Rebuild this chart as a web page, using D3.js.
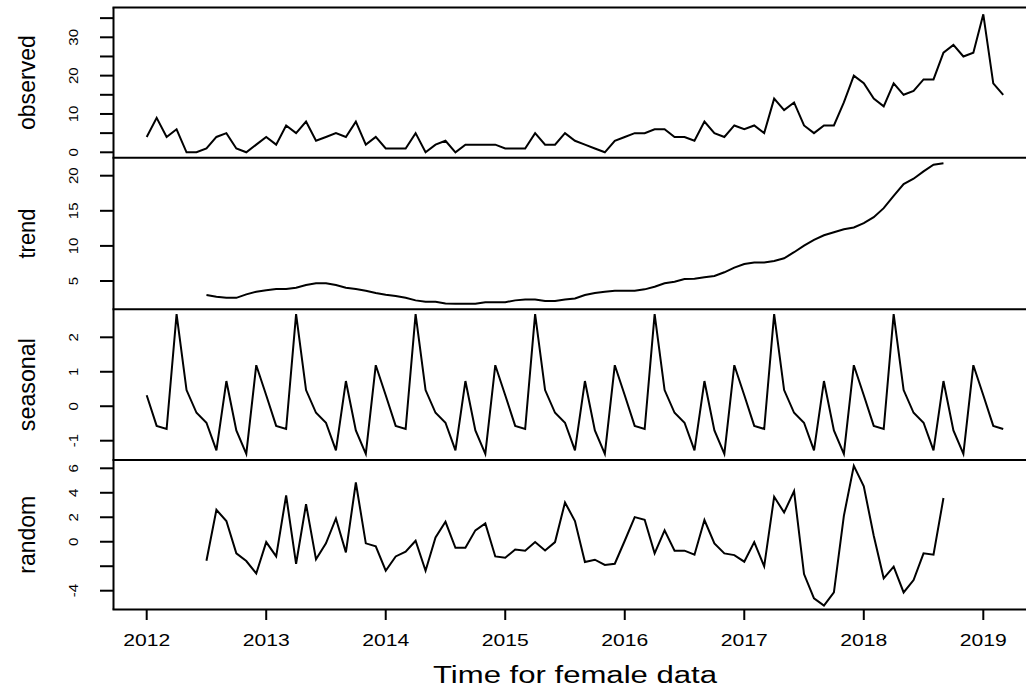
<!DOCTYPE html>
<html>
<head>
<meta charset="utf-8">
<script src="https://cdn.jsdelivr.net/npm/d3@7"></script>
<style>
  html, body { margin: 0; padding: 0; background: #fff; }
  svg { display: block; }
  text { font-family: "Liberation Sans", Arial, Helvetica, sans-serif; fill: #000; }
</style>
</head>
<body>
<svg id="chart" width="1026" height="689"></svg>
<script>
// ---------------- DATA ----------------
const startYear = 2012;
const frequency = 12;
const yearTicks = [2012, 2013, 2014, 2015, 2016, 2017, 2018, 2019];
const panelNames = ["observed", "trend", "seasonal", "random"];
const xLabel = "Time for female data";

const observed = [
  4, 9, 4, 6, 0, 0, 1, 4, 5, 1, 0, 2,
  4, 2, 7, 5, 8, 3, 4, 5, 4, 8, 2, 4,
  1, 1, 1, 5, 0, 2, 3, 0, 2, 2, 2, 2,
  1, 1, 1, 5, 2, 2, 5, 3, 2, 1, 0, 3,
  4, 5, 5, 6, 6, 4, 4, 3, 8, 5, 4, 7,
  6, 7, 5, 14, 11, 13, 7, 5, 7, 7, 13, 20,
  18, 14, 12, 18, 15, 16, 19, 19, 26, 28, 25, 26,
  36, 18, 15
];

const trend = [
  null, null, null, null, null, null, 3.0, 2.76, 2.6, 2.6, 3.1, 3.48,
  3.67, 3.86, 3.86, 4.05, 4.43, 4.67, 4.67, 4.43, 4.05, 3.86, 3.62, 3.29,
  3.05, 2.86, 2.6, 2.24, 2.05, 2.05, 1.81, 1.76, 1.76, 1.76, 1.98, 1.98,
  1.98, 2.24, 2.38, 2.38, 2.14, 2.14, 2.38, 2.52, 3.0, 3.29, 3.48, 3.62,
  3.62, 3.62, 3.81, 4.19, 4.67, 4.9, 5.29, 5.33, 5.52, 5.71, 6.24, 6.9,
  7.43, 7.62, 7.62, 7.86, 8.24, 9.1, 10.05, 10.86, 11.52, 11.95, 12.38, 12.62,
  13.24, 14.1, 15.38, 17.14, 18.81, 19.57, 20.62, 21.57, 21.76, null, null, null,
  null, null, null
];

const seasonal = [
  0.32, -0.57, -0.66, 2.67, 0.47, -0.19, -0.48, -1.28, 0.73, -0.70, -1.38, 1.19,
  0.32, -0.57, -0.66, 2.67, 0.47, -0.19, -0.48, -1.28, 0.73, -0.70, -1.38, 1.19,
  0.32, -0.57, -0.66, 2.67, 0.47, -0.19, -0.48, -1.28, 0.73, -0.70, -1.38, 1.19,
  0.32, -0.57, -0.66, 2.67, 0.47, -0.19, -0.48, -1.28, 0.73, -0.70, -1.38, 1.19,
  0.32, -0.57, -0.66, 2.67, 0.47, -0.19, -0.48, -1.28, 0.73, -0.70, -1.38, 1.19,
  0.32, -0.57, -0.66, 2.67, 0.47, -0.19, -0.48, -1.28, 0.73, -0.70, -1.38, 1.19,
  0.32, -0.57, -0.66, 2.67, 0.47, -0.19, -0.48, -1.28, 0.73, -0.70, -1.38, 1.19,
  0.32, -0.57, -0.66
];

const random = [
  null, null, null, null, null, null, -1.55, 2.61, 1.69, -0.95, -1.58, -2.59,
  -0.03, -1.2, 3.78, -1.8, 3.07, -1.44, -0.13, 1.9, -0.87, 4.84, -0.13, -0.38,
  -2.37, -1.2, -0.82, 0.08, -2.37, 0.35, 1.63, -0.49, -0.49, 0.93, 1.5, -1.2,
  -1.31, -0.63, -0.73, -0.03, -0.71, -0.03, 3.21, 1.69, -1.66, -1.47, -1.9, -1.8,
  0.08, 2.01, 1.8, -0.95, 0.93, -0.73, -0.73, -1.06, 1.77, -0.13, -0.95, -1.09,
  -1.63, -0.03, -2.01, 3.67, 2.39, 4.13, -2.64, -4.63, -5.22, -4.14, 2.12, 6.2,
  4.52, 0.49, -2.99, -2.04, -4.14, -3.13, -0.95, -1.06, 3.57, null, null, null,
  null, null, null
];

const observedTicks = [0, 5, 10, 15, 20, 25, 30, 35];
const observedLabels = [0, 10, 20, 30];
const trendTicks = [5, 10, 15, 20];
const trendLabels = [5, 10, 15, 20];
const seasonalTicks = [-1, 0, 1, 2];
const seasonalLabels = [-1, 0, 1, 2];
const randomTicks = [-4, -2, 0, 2, 4, 6];
const randomLabels = [-4, 0, 2, 4, 6];

// ---------------- LAYOUT ----------------
const W = 1026, H = 689;
const left = 113.5, right = 1026;
const bounds = [7.5, 157.7, 309.3, 460, 609.5];

const panels = [
  { name: panelNames[0], values: observed, dom: [0, 30],  rng: [152.3, 37.3], ticks: observedTicks, labels: observedLabels },
  { name: panelNames[1], values: trend,    dom: [5, 20],  rng: [281, 175.7],  ticks: trendTicks,    labels: trendLabels },
  { name: panelNames[2], values: seasonal, dom: [-1, 2],  rng: [440.7, 337.3],ticks: seasonalTicks, labels: seasonalLabels },
  { name: panelNames[3], values: random,   dom: [-4, 6],  rng: [590.7, 468.3],ticks: randomTicks,   labels: randomLabels }
];
const nameLen = { observed: 95, trend: 50, seasonal: 93, random: 78 };

const x = d3.scaleLinear().domain([2012, 2019]).range([146.7, 983.3]);
const svg = d3.select("#chart");
const LW = 2;

panels.forEach((p, i) => {
  const y = d3.scaleLinear().domain(p.dom).range(p.rng);
  const pts = p.values.map((v, k) => ({ t: startYear + k / frequency, v }));
  const line = d3.line()
    .defined(d => d.v !== null)
    .x(d => x(d.t))
    .y(d => y(d.v));
  svg.append("path")
    .datum(pts)
    .attr("d", line)
    .attr("fill", "none")
    .attr("stroke", "#000")
    .attr("stroke-width", LW)
    .attr("stroke-linejoin", "miter");

  // y ticks
  const g = svg.append("g");
  g.selectAll("line.tick").data(p.ticks).enter().append("line")
    .attr("x1", 100).attr("x2", left)
    .attr("y1", d => y(d)).attr("y2", d => y(d))
    .attr("stroke", "#000").attr("stroke-width", LW);
  g.selectAll("text.tl").data(p.labels).enter().append("text")
    .attr("transform", d => `translate(78,${y(d)}) rotate(-90) scale(1,0.82)`)
    .attr("text-anchor", "middle")
    .attr("font-size", 15)
    .text(d => d);

  // panel name
  const cy = (bounds[i] + bounds[i + 1]) / 2;
  svg.append("text")
    .attr("transform", `translate(35,${cy}) rotate(-90)`)
    .attr("text-anchor", "middle")
    .attr("font-size", 24.5)
    .attr("textLength", nameLen[p.name])
    .attr("lengthAdjust", "spacingAndGlyphs")
    .text(p.name);
});

// frame
bounds.forEach(b => {
  svg.append("line").attr("x1", left - 1).attr("x2", right)
    .attr("y1", b).attr("y2", b)
    .attr("stroke", "#000").attr("stroke-width", LW);
});
svg.append("line").attr("x1", left).attr("x2", left)
  .attr("y1", bounds[0]).attr("y2", bounds[4])
  .attr("stroke", "#000").attr("stroke-width", LW);

// x axis
const gx = svg.append("g");
gx.selectAll("line").data(yearTicks).enter().append("line")
  .attr("x1", d => x(d)).attr("x2", d => x(d))
  .attr("y1", bounds[4]).attr("y2", 620)
  .attr("stroke", "#000").attr("stroke-width", LW);
gx.selectAll("text").data(yearTicks).enter().append("text")
  .attr("x", d => x(d)).attr("y", 645.5)
  .attr("text-anchor", "middle")
  .attr("font-size", 17)
  .attr("textLength", 47)
  .attr("lengthAdjust", "spacingAndGlyphs")
  .text(d => d);

svg.append("text")
  .attr("x", 575).attr("y", 683)
  .attr("text-anchor", "middle")
  .attr("font-size", 23)
  .attr("textLength", 284)
  .attr("lengthAdjust", "spacingAndGlyphs")
  .text(xLabel);
</script>
</body>
</html>
